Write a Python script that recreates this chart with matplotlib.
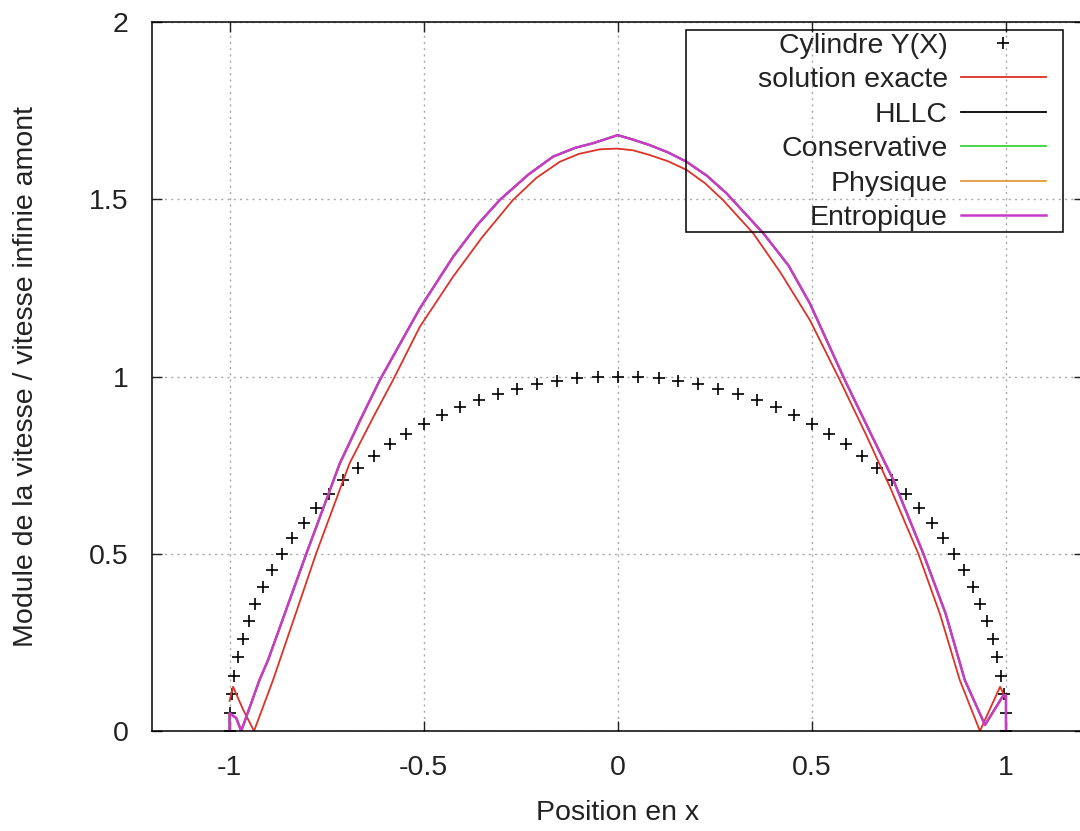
import matplotlib
matplotlib.use("Agg")
import matplotlib.pyplot as plt
from matplotlib.patches import Rectangle

plt.rcParams['font.family'] = ['Liberation Sans', 'DejaVu Sans']

# Cylinder contour points Y(X)
cyl_x = [-1.000, -0.999, -0.995, -0.988, -0.978, -0.966, -0.951, -0.934, -0.914, -0.891,
         -0.866, -0.839, -0.809, -0.777, -0.743, -0.707, -0.669, -0.629, -0.588, -0.545,
         -0.500, -0.454, -0.407, -0.358, -0.309, -0.259, -0.208, -0.156, -0.105, -0.052,
         0.000,
         0.052, 0.105, 0.156, 0.208, 0.259, 0.309, 0.358, 0.407, 0.454, 0.500,
         0.545, 0.588, 0.629, 0.669, 0.707, 0.743, 0.777, 0.809, 0.839, 0.866,
         0.891, 0.914, 0.934, 0.951, 0.966, 0.978, 0.988, 0.995, 0.999, 1.000]
cyl_y = [0.000, 0.052, 0.105, 0.156, 0.208, 0.259, 0.309, 0.358, 0.407, 0.454,
         0.500, 0.545, 0.588, 0.629, 0.669, 0.707, 0.743, 0.777, 0.809, 0.839,
         0.866, 0.891, 0.914, 0.934, 0.951, 0.966, 0.978, 0.988, 0.995, 0.999,
         1.000,
         0.999, 0.995, 0.988, 0.978, 0.966, 0.951, 0.934, 0.914, 0.891, 0.866,
         0.839, 0.809, 0.777, 0.743, 0.707, 0.669, 0.629, 0.588, 0.545, 0.500,
         0.454, 0.407, 0.358, 0.309, 0.259, 0.208, 0.156, 0.105, 0.052, 0.000]

# Exact solution
exact_x = [-1.000, -0.991, -0.965, -0.937, -0.888, -0.830, -0.777, -0.691, -0.630, -0.579,
           -0.510, -0.424, -0.350, -0.270, -0.210, -0.149, -0.100, -0.046, 0.000, 0.040,
           0.082, 0.130, 0.177, 0.225, 0.271, 0.349, 0.420, 0.495,
           0.572, 0.640, 0.701, 0.774, 0.830, 0.881, 0.933, 0.960, 0.985, 1.000]
exact_y = [0.085, 0.125, 0.060, 0.000, 0.144, 0.330, 0.501, 0.755, 0.885, 0.990,
           1.140, 1.282, 1.392, 1.498, 1.560, 1.606, 1.628, 1.641, 1.643, 1.638,
           1.625, 1.607, 1.583, 1.545, 1.498, 1.404, 1.292, 1.159,
           0.990, 0.835, 0.689, 0.501, 0.330, 0.144, 0.000, 0.065, 0.125, 0.090]

# Numerical schemes (curves coincide)
num_x = [-1.000, -1.000, -0.983, -0.970, -0.923, -0.901, -0.850, -0.802, -0.716, -0.660,
         -0.613, -0.510, -0.424, -0.360, -0.304, -0.230, -0.167, -0.110, -0.064, 0.000,
         0.040, 0.082, 0.130, 0.177, 0.230, 0.280, 0.375, 0.440,
         0.495, 0.585, 0.650, 0.710, 0.787, 0.845, 0.894, 0.946, 0.993, 1.000, 1.000]
num_y = [0.000, 0.050, 0.037, 0.000, 0.144, 0.200, 0.355, 0.501, 0.755, 0.885,
         0.990, 1.192, 1.338, 1.430, 1.498, 1.570, 1.620, 1.645, 1.658, 1.681,
         1.668, 1.653, 1.632, 1.606, 1.566, 1.517, 1.404, 1.313,
         1.206, 0.990, 0.843, 0.708, 0.501, 0.330, 0.144, 0.017, 0.100, 0.100, 0.000]

hllc_y = num_y
conservative_y = num_y
physique_y = num_y
entropique_y = num_y

x_ticks = [-1, -0.5, 0, 0.5, 1]
x_ticklabels = ['-1', '-0.5', '0', '0.5', '1']
y_ticks = [0, 0.5, 1, 1.5, 2]
y_ticklabels = ['0', '0.5', '1', '1.5', '2']

FS = 20.5
TXT = '#222222'

fig = plt.figure(figsize=(10.8, 8.31), dpi=100)
ax = fig.add_axes([0.1407, 0.1203, 0.8626, 0.8532])

ax.plot(cyl_x, cyl_y, linestyle='none', marker='+', color='black',
        markersize=8.5, markeredgewidth=1.2, label='Cylindre Y(X)')
ax.plot(exact_x, exact_y, color='#dc3228', lw=1.3, label='solution exacte')
ax.plot(num_x, hllc_y, color='black', lw=1.3, label='HLLC')
ax.plot(num_x, conservative_y, color='#3cd23c', lw=1.3, label='Conservative')
ax.plot(num_x, physique_y, color='#e09a3a', lw=1.3, label='Physique')
ax.plot(num_x, entropique_y, color='#c63cc8', lw=1.8, label='Entropique')

ax.set_xlim(-1.2, 1.2)
ax.set_ylim(0, 2)
ax.set_xticks(x_ticks)
ax.set_xticklabels(x_ticklabels)
ax.set_yticks(y_ticks)
ax.set_yticklabels(y_ticklabels)

ax.grid(True, color='#a8a8a8', linestyle=(0, (1.5, 3)), linewidth=1)
ax.tick_params(direction='in', length=7, width=1, top=True, right=True,
               labelsize=FS, colors=TXT, pad=17)
ax.tick_params(axis='y', pad=17)
for s in ax.spines.values():
    s.set_linewidth(1.1)
    s.set_color('black')

ax.set_xlabel('Position en x', fontsize=FS, color=TXT, labelpad=14)
ax.set_ylabel('Module de la vitesse / vitesse infinie amont', fontsize=FS,
              color=TXT, labelpad=36)

leg = ax.legend(loc='upper right', bbox_to_anchor=(0.9597, 0.985), borderaxespad=0,
                markerfirst=False, fontsize=FS, handlelength=3.0, handletextpad=0.45,
                labelspacing=0.3, borderpad=0.0, frameon=False, numpoints=1)
for t in leg.get_texts():
    t.set_color(TXT)

# legend box (gnuplot-style key frame, wider than its content)
ax.add_patch(Rectangle((0.5732, 0.7038), 0.9779 - 0.5732, 0.9887 - 0.7038,
                       transform=ax.transAxes, fill=False, edgecolor='black',
                       linewidth=1.1, zorder=5))

fig.savefig('out.png', dpi=100)
